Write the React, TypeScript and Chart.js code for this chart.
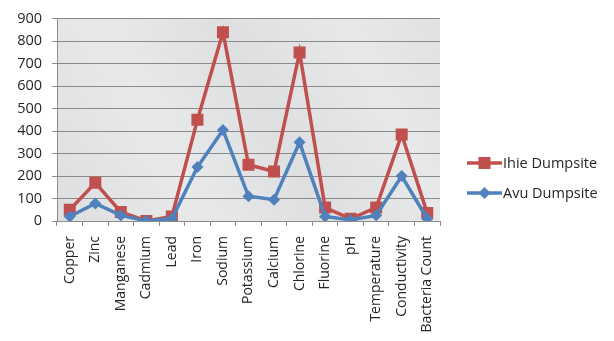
import React, { useEffect, useRef } from "react";
import { Chart, registerables } from "chart.js";

Chart.register(...registerables);

// Parameters measured at the two dumpsites
const categories = [
  "Copper", "Zinc", "Manganese", "Cadmium", "Lead", "Iron", "Sodium", "Potassium",
  "Calcium", "Chlorine", "Fluorine", "pH", "Temperature", "Conductivity", "Bacteria Count",
];
const ihieDumpsite = [50, 170, 40, 0, 20, 450, 840, 250, 220, 750, 60, 10, 60, 385, 35];
const avuDumpsite = [20, 78, 25, 0, 10, 240, 405, 110, 95, 350, 20, 5, 25, 200, 10];
const yTicks = { min: 0, max: 900, step: 100 };

const RED = "#C0504D";
const BLUE = "#4F81BD";
const FONT = "'Open Sans', 'Noto Sans', sans-serif";
const TEXT = "#262626";

// Pale stone-grey plot background with a soft diagonal shading
const plotBackground = {
  id: "plotBackground",
  beforeDraw(chart: any) {
    const { ctx, chartArea: a } = chart;
    ctx.save();
    const g = ctx.createLinearGradient(a.left, a.bottom, a.right, a.top);
    g.addColorStop(0, "#dcdee0");
    g.addColorStop(0.3, "#e8e9eb");
    g.addColorStop(0.55, "#dddfe1");
    g.addColorStop(0.8, "#e7e8ea");
    g.addColorStop(1, "#dfe1e3");
    ctx.fillStyle = g;
    ctx.fillRect(a.left, a.top, a.right - a.left, a.bottom - a.top);
    ctx.restore();
  },
};

// Legend drawn at the right, beside the plot
const sideLegend = {
  id: "sideLegend",
  afterDraw(chart: any) {
    const { ctx } = chart;
    const items = [
      { label: "Ihie Dumpsite", color: RED, style: "rect", r: 8.5, y: 163 },
      { label: "Avu Dumpsite", color: BLUE, style: "rectRot", r: 6, y: 193 },
    ];
    ctx.save();
    ctx.font = `14.5px ${FONT}`;
    ctx.textBaseline = "middle";
    ctx.textAlign = "left";
    for (const it of items) {
      const x0 = 467;
      const x1 = 502;
      ctx.strokeStyle = it.color;
      ctx.lineWidth = 3.5;
      ctx.beginPath();
      ctx.moveTo(x0, it.y);
      ctx.lineTo(x1, it.y);
      ctx.stroke();
      ctx.fillStyle = it.color;
      ctx.beginPath();
      if (it.style === "rect") {
        const s = it.r * Math.SQRT1_2;
        ctx.rect((x0 + x1) / 2 - s, it.y - s, 2 * s, 2 * s);
      } else {
        const cx = (x0 + x1) / 2;
        ctx.moveTo(cx, it.y - it.r);
        ctx.lineTo(cx + it.r, it.y);
        ctx.lineTo(cx, it.y + it.r);
        ctx.lineTo(cx - it.r, it.y);
        ctx.closePath();
      }
      ctx.fill();
      ctx.fillStyle = TEXT;
      ctx.fillText(it.label, x1 + 1, it.y + 1);
    }
    ctx.restore();
  },
};

export default function App() {
  const canvasRef = useRef<HTMLCanvasElement>(null);

  useEffect(() => {
    const chart = new Chart(canvasRef.current!, {
      type: "line",
      data: {
        labels: categories,
        datasets: [
          {
            label: "Avu Dumpsite",
            data: avuDumpsite,
            borderColor: BLUE,
            backgroundColor: BLUE,
            borderWidth: 3.5,
            pointStyle: "rectRot",
            pointRadius: 6,
            pointBorderWidth: 0,
            tension: 0,
          },
          {
            label: "Ihie Dumpsite",
            data: ihieDumpsite,
            borderColor: RED,
            backgroundColor: RED,
            borderWidth: 3.5,
            pointStyle: "rect",
            pointRadius: 8.5,
            pointBorderWidth: 0,
            tension: 0,
          },
        ],
      },
      options: {
        animation: false,
        responsive: false,
        devicePixelRatio: 1,
        layout: { padding: { left: 0, top: 14, right: 174, bottom: 0 } },
        plugins: { legend: { display: false }, tooltip: { enabled: false } },
        scales: {
          x: {
            offset: true,
            afterFit(scale: any) {
              scale.height = 120;
            },
            grid: {
              offset: true,
              drawOnChartArea: false,
              tickLength: 5,
              color: "#8c8c8c",
            },
            border: { color: "#8c8c8c", width: 1 },
            ticks: {
              color: TEXT,
              font: { family: FONT, size: 14 },
              minRotation: 90,
              maxRotation: 90,
              autoSkip: false,
              padding: 10,
            },
          },
          y: {
            min: yTicks.min,
            max: yTicks.max,
            afterFit(scale: any) {
              scale.width = 57;
            },
            grid: { color: "#8a8a8a", tickLength: 5, lineWidth: 1 },
            border: { color: "#8c8c8c", width: 1 },
            ticks: {
              stepSize: yTicks.step,
              color: TEXT,
              font: { family: FONT, size: 14.5 },
              padding: 10,
            },
          },
        },
      },
      plugins: [plotBackground, sideLegend],
    });
    return () => chart.destroy();
  }, []);

  return (
    <div style={{ position: "fixed", left: 0, top: 0, width: 614, height: 341, background: "#fff" }}>
      <canvas ref={canvasRef} width={614} height={341} />
    </div>
  );
}
